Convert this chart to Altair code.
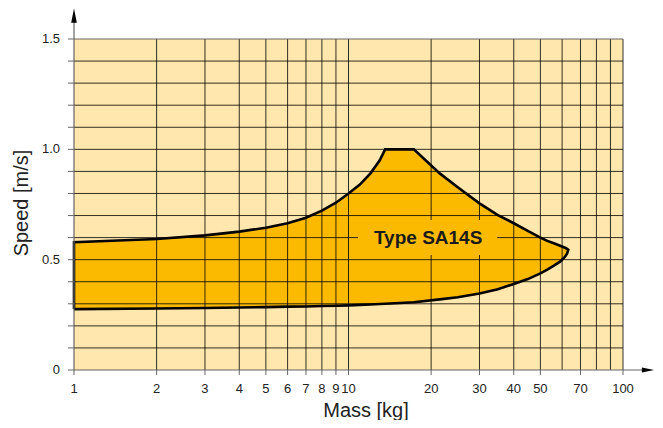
import altair as alt
import pandas as pd

# ---- data ----
mass = [1, 2, 3, 4, 5, 6, 7, 8, 9, 10, 11, 12, 13, 13.6, 17.3, 21.5, 25, 30, 35, 40, 45, 50, 53, 56, 59, 61.5, 62.6, 63.2]
upper = [0.579, 0.594, 0.610, 0.627, 0.645, 0.665, 0.690, 0.722, 0.758, 0.800, 0.840, 0.890, 0.950, 1.0,
         1.0, 0.891, 0.828, 0.755, 0.702, 0.665, 0.630, 0.600, 0.585, 0.574, 0.563, 0.554, 0.549, 0.545]
lower = [0.276, 0.279, 0.281, 0.283, 0.285, 0.287, 0.288, 0.290, 0.291, 0.293, 0.295, 0.297, 0.299, 0.300,
         0.307, 0.320, 0.330, 0.347, 0.366, 0.390, 0.412, 0.438, 0.455, 0.473, 0.491, 0.513, 0.528, 0.545]

x_ticks = [1, 2, 3, 4, 5, 6, 7, 8, 9, 10, 20, 30, 40, 50, 70, 100]
x_tick_labels = ["1", "2", "3", "4", "5", "6", "7", "8", "9", "10", "20", "30", "40", "50", "70", "100"]
x_grid = [2, 3, 4, 5, 6, 7, 8, 9, 10, 20, 30, 40, 50, 60, 70, 80, 90, 100]
y_ticks = [0, 0.1, 0.2, 0.3, 0.4, 0.5, 0.6, 0.7, 0.8, 0.9, 1.0, 1.1, 1.2, 1.3, 1.4, 1.5]
y_label_values = [0, 0.5, 1.0, 1.5]
y_tick_labels = ["0", "0.5", "1.0", "1.5"]
y_grid = [0.1, 0.2, 0.3, 0.4, 0.5, 0.6, 0.7, 0.8, 0.9, 1.0, 1.1, 1.2, 1.3, 1.4]

x_title = "Mass [kg]"
y_title = "Speed [m/s]"
label_text = ["Type SA14S"]
label_x = [19.5]
label_y = [0.597]
label_box = {"x1": [10.83], "x2": [34.8], "y1": [0.521], "y2": [0.680]}

# arrow ends of the axes (data units, beyond the plotted range)
x_arrow = {"x": [1], "x2": [120.3], "tip": [123.3]}
y_arrow = {"y": [0], "y2": [1.586], "tip": [1.606]}

BG = "#FFE7AD"
FILL = "#FBBA00"
AX = "#666666"
TXT = "#222222"
FONT = "Liberation Sans"

xs = alt.Scale(type="log", domain=[1, 100], nice=False)
ys = alt.Scale(domain=[0, 1.5], nice=False, zero=False)

band = pd.DataFrame({"m": mass, "lo": lower, "hi": upper})

pts = [(1, lower[0])] + list(zip(mass, upper)) + list(zip(reversed(mass[:-1]), reversed(lower[:-1])))
outline = pd.DataFrame({"m": [p[0] for p in pts], "v": [p[1] for p in pts], "o": list(range(len(pts)))})


def X(f):
    return alt.X(f, scale=xs, axis=None)


def Y(f):
    return alt.Y(f, scale=ys, axis=None)


X0 = alt.XDatum(1, scale=xs, axis=None)
Y0 = alt.YDatum(0, scale=ys, axis=None)

bg = alt.Chart(pd.DataFrame({"a": [1], "b": [100], "c": [0], "d": [1.5]})).mark_rect(color=BG).encode(
    x=X("a:Q"), x2="b:Q", y=Y("c:Q"), y2="d:Q")

area = alt.Chart(band).mark_area(color=FILL, opacity=1).encode(x=X("m:Q"), y=Y("lo:Q"), y2="hi:Q")

vgrid = alt.Chart(pd.DataFrame({"g": x_grid})).mark_rule(color="black", opacity=0.8, strokeWidth=1).encode(
    x=X("g:Q"), y=Y0, y2=alt.datum(1.5))
hgrid = alt.Chart(pd.DataFrame({"g": y_grid})).mark_rule(color="black", opacity=0.8, strokeWidth=1).encode(
    y=Y("g:Q"), x=X0, x2=alt.datum(100))
top = alt.Chart(pd.DataFrame({"g": [1.5]})).mark_rule(color=AX, strokeWidth=1).encode(
    y=Y("g:Q"), x=X0, x2=alt.datum(100))

line = alt.Chart(outline).mark_line(color="black", strokeWidth=2.6, strokeJoin="miter").encode(
    x=X("m:Q"), y=Y("v:Q"), order="o:Q")

box = alt.Chart(pd.DataFrame(label_box)).mark_rect(color=FILL).encode(
    x=X("x1:Q"), x2="x2:Q", y=Y("y1:Q"), y2="y2:Q")
txt = alt.Chart(pd.DataFrame({"t": label_text, "x": label_x, "y": label_y})).mark_text(
    font=FONT, fontSize=19, fontWeight="bold", color="#1a1a1a", baseline="middle", align="center").encode(
    x=X("x:Q"), y=Y("y:Q"), text="t:N")

# axes, drawn as marks
xar = alt.Chart(pd.DataFrame(x_arrow)).mark_rule(color=AX, strokeWidth=1.2).encode(
    x=X("x:Q"), x2="x2:Q", y=Y0)
xhead = alt.Chart(pd.DataFrame(x_arrow)).mark_point(
    shape="M-1,-0.4L1,0L-1,0.4Z", filled=True, color="black", opacity=1, size=150).encode(
    x=X("tip:Q"), y=Y0)
yar = alt.Chart(pd.DataFrame(y_arrow)).mark_rule(color=AX, strokeWidth=1.2).encode(
    y=Y("y:Q"), y2="y2:Q", x=X0)
yhead = alt.Chart(pd.DataFrame(y_arrow)).mark_point(
    shape="M-0.4,1L0,-1L0.4,1Z", filled=True, color="black", opacity=1, size=200).encode(
    y=Y("tip:Q"), x=X0)

xtick = alt.Chart(pd.DataFrame({"v": x_ticks})).mark_tick(
    orient="vertical", size=5, thickness=1, color=AX, yOffset=2.5, opacity=1).encode(x=X("v:Q"), y=Y0)
ytick = alt.Chart(pd.DataFrame({"v": y_ticks})).mark_tick(
    orient="horizontal", size=6, thickness=1, color=AX, xOffset=-3, opacity=1).encode(y=Y("v:Q"), x=X0)
xlab = alt.Chart(pd.DataFrame({"v": x_ticks, "t": x_tick_labels})).mark_text(
    font=FONT, fontSize=13, color=TXT, baseline="top", align="center", dy=12.5).encode(
    x=X("v:Q"), y=Y0, text="t:N")
ylab = alt.Chart(pd.DataFrame({"v": y_label_values, "t": y_tick_labels})).mark_text(
    font=FONT, fontSize=13, color=TXT, baseline="middle", align="right", dx=-14).encode(
    y=Y("v:Q"), x=X0, text="t:N")
xtitle = alt.Chart(pd.DataFrame({"t": [x_title]})).mark_text(
    font=FONT, fontSize=20, color=TXT, baseline="middle", align="center").encode(
    x=alt.value(292), y=alt.value(372), text="t:N")
ytitle = alt.Chart(pd.DataFrame({"t": [y_title]})).mark_text(
    font=FONT, fontSize=20, color=TXT, baseline="middle", align="center", angle=270).encode(
    x=alt.value(-52), y=alt.value(164), text="t:N")

chart = alt.layer(bg, area, vgrid, hgrid, top, line, box, txt, xar, xhead, yar, yhead,
                  xtick, ytick, xlab, ylab, xtitle, ytitle).properties(
    width=549, height=331,
    autosize=alt.AutoSizeParams(type="none"),
    padding={"left": 66, "top": 31, "right": 32, "bottom": 50},
    background="white",
).configure_view(stroke=None)

chart.save("out.html", embed_options={"renderer": "svg", "actions": False})
